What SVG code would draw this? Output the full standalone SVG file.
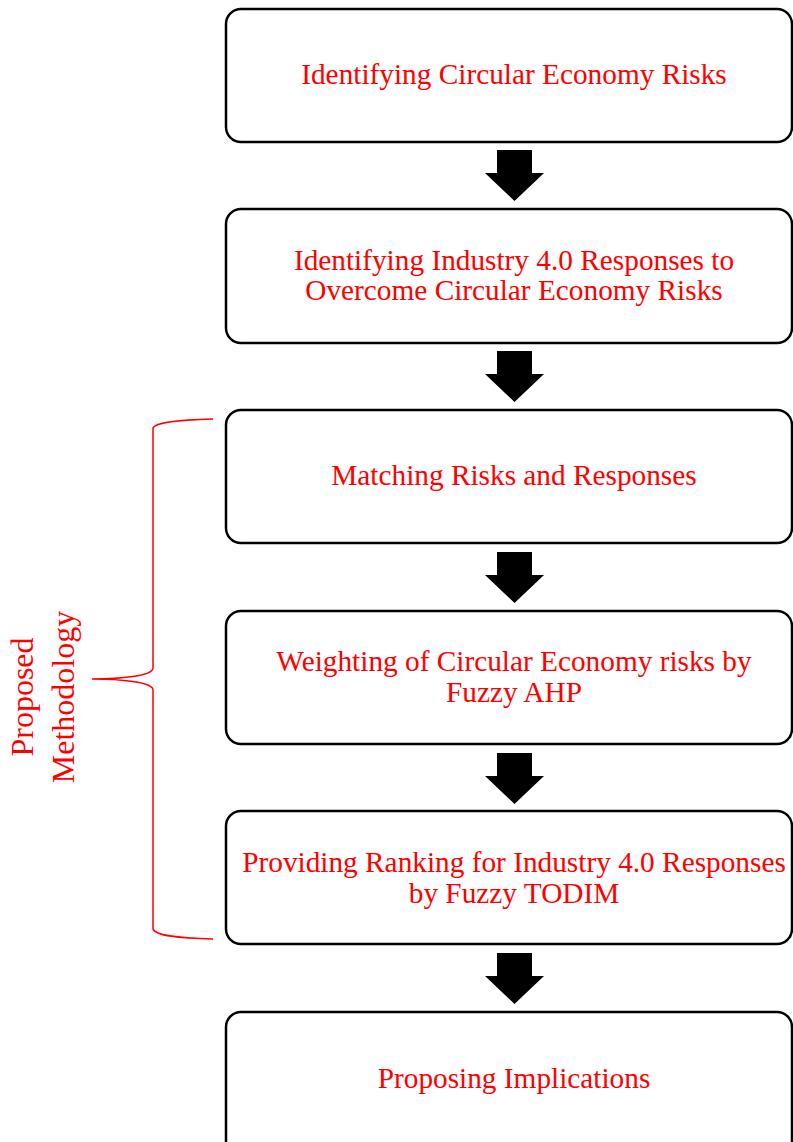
<svg xmlns="http://www.w3.org/2000/svg" width="793" height="1142" viewBox="0 0 793 1142">
<defs>
<style>
.box{fill:#fff;stroke:#000;stroke-width:2.5}
.t{font-family:"Liberation Serif","Times New Roman",serif;font-size:29.3px;fill:#ff0000;text-anchor:middle}
.side{font-size:32px}
.arr{fill:#000}
.brace{fill:none;stroke:#ff0000;stroke-width:1.5}
</style>
<path id="ar" d="M-17.5,0 H17.5 V23 H29.5 L0,51 L-29.5,23 H-17.5 Z"/>
</defs>
<rect width="793" height="1142" fill="#fff"/>
<g id="n1"><rect class="box" x="226" y="9" width="566" height="133" rx="15"/><text class="t" x="514" y="84">Identifying Circular Economy Risks</text></g>
<g id="n2"><rect class="box" x="226" y="209" width="566" height="134" rx="15"/><text class="t" x="514" y="270">Identifying Industry 4.0 Responses to</text><text class="t" x="514" y="300">Overcome Circular Economy Risks</text></g>
<g id="n3"><rect class="box" x="226" y="410" width="566" height="133" rx="15"/><text class="t" x="514" y="485">Matching Risks and Responses</text></g>
<g id="n4"><rect class="box" x="226" y="611" width="566" height="133" rx="15"/><text class="t" x="514" y="671">Weighting of Circular Economy risks by</text><text class="t" x="514" y="702">Fuzzy AHP</text></g>
<g id="n5"><rect class="box" x="226" y="811" width="566" height="133" rx="15"/><text class="t" x="514" y="872">Providing Ranking for Industry 4.0 Responses</text><text class="t" x="514" y="903">by Fuzzy TODIM</text></g>
<g id="n6"><rect class="box" x="226" y="1012" width="566" height="150" rx="15"/><text class="t" x="514" y="1088">Proposing Implications</text></g>
<g id="connectors">
<use href="#ar" class="arr" x="514.5" y="150"/>
<use href="#ar" class="arr" x="514.5" y="351"/>
<use href="#ar" class="arr" x="514.5" y="552"/>
<use href="#ar" class="arr" x="514.5" y="753"/>
<use href="#ar" class="arr" x="514.5" y="953"/>
</g>
<g id="brace">
<path class="brace" d="M213,419 C180,420 155,422 153,428 V668 C153,676 120,679 92,679 C120,679 153,682 153,690 V929 C155,936 180,938 213,939"/>
<text class="t side" transform="translate(33,697) rotate(-90)">Proposed</text>
<text class="t side" transform="translate(74,697) rotate(-90)">Methodology</text>
</g>
</svg>
